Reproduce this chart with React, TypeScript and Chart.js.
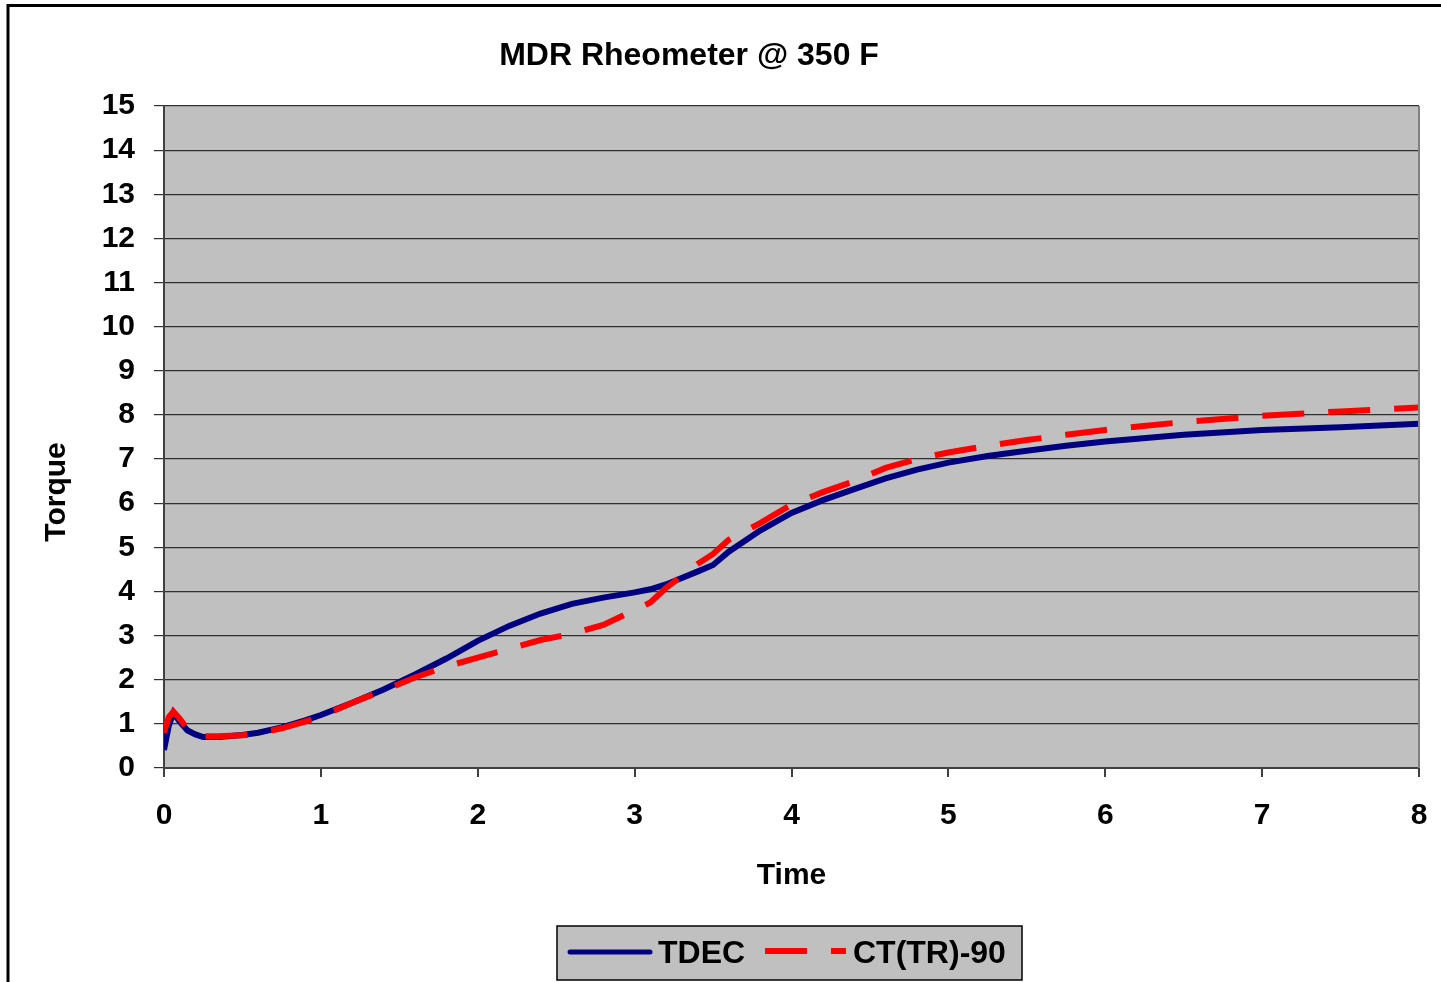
import React, { useEffect, useRef } from "react";
import { Chart, registerables } from "chart.js";

Chart.register(...registerables);

const titleText = "MDR Rheometer @ 350 F";
const xTitle = "Time";
const yTitle = "Torque";
const seriesNames = ["TDEC", "CT(TR)-90"];

const times = [0, 0.03, 0.06, 0.1, 0.15, 0.2, 0.25, 0.35, 0.5, 0.6, 0.75, 0.9, 1.0, 1.2, 1.4, 1.6, 1.8, 2.0, 2.2, 2.4, 2.6, 2.8, 3.0, 3.1, 3.2, 3.4, 3.5, 3.6, 3.8, 4.0, 4.2, 4.4, 4.6, 4.8, 5.0, 5.25, 5.5, 5.75, 6.0, 6.5, 7.0, 7.5, 8.0];

const tdec = [0.41, 0.95, 1.25, 1.05, 0.85, 0.76, 0.7, 0.7, 0.75, 0.8, 0.92, 1.08, 1.2, 1.48, 1.78, 2.12, 2.48, 2.88, 3.22, 3.5, 3.72, 3.86, 3.98, 4.05, 4.16, 4.45, 4.6, 4.9, 5.38, 5.78, 6.07, 6.32, 6.56, 6.76, 6.92, 7.07, 7.19, 7.3, 7.4, 7.55, 7.66, 7.72, 7.8];

const ct90 = [0.8, 1.15, 1.28, 1.12, 0.88, 0.76, 0.72, 0.72, 0.74, 0.78, 0.9, 1.05, 1.17, 1.48, 1.76, 2.05, 2.3, 2.5, 2.7, 2.9, 3.04, 3.24, 3.58, 3.75, 4.08, 4.62, 4.85, 5.17, 5.55, 5.97, 6.25, 6.5, 6.8, 7.0, 7.15, 7.3, 7.43, 7.55, 7.66, 7.84, 7.98, 8.08, 8.17];

const FONT = "'Liberation Sans', Arial, sans-serif";

const decorPlugin = {
  id: "decor",
  beforeDraw(chart: any) {
    const { ctx, chartArea: a } = chart;
    ctx.save();
    ctx.fillStyle = "#ffffff";
    ctx.fillRect(0, 0, chart.width, chart.height);
    ctx.fillStyle = "#c0c0c0";
    ctx.fillRect(a.left, a.top, a.right - a.left, a.bottom - a.top);
    ctx.restore();
  },
  afterDraw(chart: any) {
    const { ctx, chartArea: a } = chart;
    ctx.save();
    // plot border right
    ctx.strokeStyle = "#808080";
    ctx.lineWidth = 2;
    ctx.beginPath();
    ctx.moveTo(a.right, a.top);
    ctx.lineTo(a.right, a.bottom);
    ctx.stroke();
    // outer frame
    ctx.strokeStyle = "#000000";
    ctx.lineWidth = 3;
    ctx.beginPath();
    ctx.moveTo(8, chart.height + 5);
    ctx.lineTo(8, 5.5);
    ctx.lineTo(chart.width + 5, 5.5);
    ctx.stroke();
    // title
    ctx.fillStyle = "#000";
    ctx.font = `bold 32px ${FONT}`;
    ctx.textAlign = "center";
    ctx.textBaseline = "alphabetic";
    ctx.fillText(titleText, 689, 65);
    // x title
    ctx.font = `bold 30px ${FONT}`;
    ctx.fillText(xTitle, (a.left + a.right) / 2, 884);
    // y title
    ctx.save();
    ctx.translate(65, 492);
    ctx.rotate(-Math.PI / 2);
    ctx.fillText(yTitle, 0, 0);
    ctx.restore();
    // legend
    ctx.fillStyle = "#c0c0c0";
    ctx.fillRect(557, 926, 465, 54);
    ctx.strokeStyle = "#000";
    ctx.lineWidth = 1.5;
    ctx.strokeRect(557, 926, 465, 54);
    ctx.lineCap = "round";
    ctx.strokeStyle = "#000080";
    ctx.lineWidth = 5;
    ctx.beginPath();
    ctx.moveTo(570, 952);
    ctx.lineTo(650, 952);
    ctx.stroke();
    ctx.lineCap = "butt";
    ctx.strokeStyle = "#ff0000";
    ctx.lineWidth = 6;
    ctx.beginPath();
    ctx.moveTo(765, 951);
    ctx.lineTo(807, 951);
    ctx.moveTo(831, 951);
    ctx.lineTo(846, 951);
    ctx.stroke();
    ctx.fillStyle = "#000";
    ctx.font = `bold 32px ${FONT}`;
    ctx.textAlign = "left";
    ctx.fillText(seriesNames[0], 658, 963);
    ctx.fillText(seriesNames[1], 853, 963);
    ctx.restore();
  },
};

export default function App() {
  const ref = useRef<HTMLCanvasElement | null>(null);
  useEffect(() => {
    if (!ref.current) return;
    const chart = new Chart(ref.current, {
      type: "line",
      data: {
        datasets: [
          {
            label: seriesNames[1],
            data: times.map((t, i) => ({ x: t, y: ct90[i] })),
            borderColor: "#ff0000",
            borderWidth: 6,
            borderDash: [42, 24],
            pointRadius: 0,
            tension: 0,
            fill: false,
            order: 0,
          },
          {
            label: seriesNames[0],
            data: times.map((t, i) => ({ x: t, y: tdec[i] })),
            borderColor: "#000080",
            borderWidth: 6,
            pointRadius: 0,
            tension: 0,
            fill: false,
            order: 1,
          },
        ],
      },
      options: {
        responsive: false,
        animation: false,
        devicePixelRatio: 1,
        layout: { padding: { left: 0, top: 106, right: 22, bottom: 0 } },
        plugins: {
          legend: { display: false },
          title: { display: false },
          tooltip: { enabled: false },
        },
        scales: {
          x: {
            type: "linear",
            min: 0,
            max: 8,
            afterFit: (s: any) => {
              s.height = 214;
              s.paddingLeft = 0;
              s.paddingRight = 0;
            },
            ticks: {
              stepSize: 1,
              padding: 21,
              color: "#000",
              font: { family: FONT, size: 30, weight: "bold" },
            },
            grid: {
              drawOnChartArea: false,
              drawTicks: true,
              tickLength: 9,
              color: "#404040",
              lineWidth: 2,
            },
            border: { color: "#404040", width: 2 },
          },
          y: {
            type: "linear",
            min: 0,
            max: 15,
            afterFit: (s: any) => {
              s.width = 164;
              s.paddingTop = 0;
              s.paddingBottom = 0;
            },
            ticks: {
              stepSize: 1,
              padding: 19,
              color: "#000",
              font: { family: FONT, size: 30, weight: "bold" },
            },
            grid: {
              drawTicks: true,
              tickLength: 10,
              color: "#303030",
              lineWidth: 1.2,
            },
            border: { color: "#404040", width: 2 },
          },
        },
      },
      plugins: [decorPlugin],
    });
    return () => chart.destroy();
  }, []);
  return (
    <canvas
      ref={ref}
      width={1441}
      height={982}
      style={{ position: "fixed", left: 0, top: 0, width: 1441, height: 982 }}
    />
  );
}
